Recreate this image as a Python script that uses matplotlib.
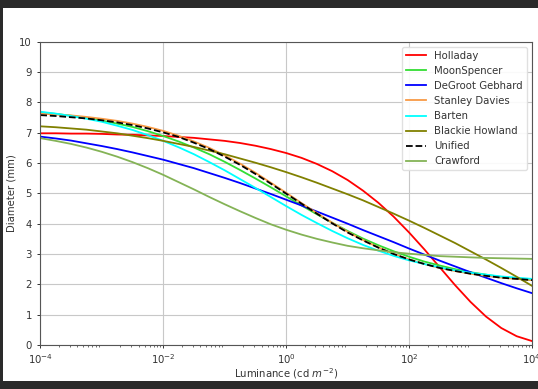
import matplotlib
matplotlib.use("Agg")
import matplotlib.pyplot as plt
from matplotlib.patches import Rectangle

# luminance sample points (log10 cd/m^2), every quarter decade
log_lum = [-4, -3.75, -3.5, -3.25, -3, -2.75, -2.5, -2.25, -2, -1.75, -1.5, -1.25,
           -1, -0.75, -0.5, -0.25, 0, 0.25, 0.5, 0.75, 1, 1.25, 1.5, 1.75,
           2, 2.25, 2.5, 2.75, 3, 3.25, 3.5, 3.75, 4]
luminance = [10.0 ** v for v in log_lum]

# pupil diameters (mm)
holladay = [6.98, 6.98, 6.97, 6.97, 6.96, 6.94, 6.93, 6.91, 6.89, 6.86, 6.83, 6.78,
            6.73, 6.66, 6.57, 6.46, 6.33, 6.17, 5.97, 5.73, 5.44, 5.09, 4.69, 4.23,
            3.71, 3.15, 2.56, 1.97, 1.42, 0.94, 0.56, 0.29, 0.13]
moon_spencer = [7.67, 7.62, 7.56, 7.49, 7.40, 7.30, 7.19, 7.05, 6.89, 6.71, 6.51, 6.29,
                6.04, 5.77, 5.49, 5.20, 4.90, 4.60, 4.31, 4.03, 3.76, 3.51, 3.29, 3.09,
                2.91, 2.75, 2.62, 2.50, 2.40, 2.32, 2.24, 2.19, 2.14]
degroot = [6.87, 6.81, 6.74, 6.65, 6.56, 6.46, 6.35, 6.23, 6.11, 5.97, 5.83, 5.67,
           5.51, 5.34, 5.16, 4.98, 4.79, 4.60, 4.40, 4.20, 4.00, 3.79, 3.59, 3.39,
           3.18, 2.98, 2.78, 2.59, 2.40, 2.22, 2.04, 1.87, 1.71]
stanley_davies = [7.63, 7.60, 7.57, 7.52, 7.46, 7.39, 7.30, 7.19, 7.06, 6.90, 6.71, 6.50,
                  6.25, 5.98, 5.68, 5.35, 5.02, 4.68, 4.35, 4.03, 3.73, 3.46, 3.22, 3.00,
                  2.82, 2.67, 2.54, 2.44, 2.35, 2.28, 2.22, 2.18, 2.14]
barten = [7.69, 7.63, 7.55, 7.46, 7.36, 7.23, 7.09, 6.92, 6.73, 6.52, 6.29, 6.03,
          5.76, 5.47, 5.18, 4.88, 4.58, 4.29, 4.02, 3.76, 3.52, 3.30, 3.11, 2.94,
          2.79, 2.67, 2.56, 2.46, 2.38, 2.32, 2.26, 2.22, 2.18]
blackie_howland = [7.21, 7.18, 7.14, 7.10, 7.04, 6.98, 6.90, 6.82, 6.73, 6.63, 6.53, 6.41,
                   6.29, 6.15, 6.01, 5.86, 5.70, 5.53, 5.35, 5.16, 4.97, 4.77, 4.55, 4.33,
                   4.10, 3.86, 3.61, 3.36, 3.09, 2.82, 2.54, 2.25, 1.95]
unified = [7.58, 7.55, 7.51, 7.47, 7.41, 7.34, 7.25, 7.14, 7.01, 6.86, 6.67, 6.46,
           6.21, 5.94, 5.64, 5.32, 4.99, 4.66, 4.33, 4.01, 3.71, 3.45, 3.21, 3.00,
           2.82, 2.67, 2.54, 2.44, 2.35, 2.28, 2.22, 2.18, 2.14]
crawford = [6.82, 6.73, 6.63, 6.51, 6.37, 6.21, 6.03, 5.83, 5.61, 5.37, 5.13, 4.88,
            4.64, 4.41, 4.19, 3.98, 3.80, 3.64, 3.50, 3.38, 3.27, 3.19, 3.12, 3.06,
            3.01, 2.97, 2.93, 2.91, 2.89, 2.87, 2.86, 2.85, 2.84]

plt.rcParams["font.size"] = 7.3
plt.rcParams["text.color"] = "#333333"
plt.rcParams["axes.labelcolor"] = "#333333"
plt.rcParams["xtick.color"] = "#333333"
plt.rcParams["ytick.color"] = "#333333"

fig = plt.figure(figsize=(5.38, 3.89), dpi=100, facecolor="#2a2a2a")
# white canvas inside the dark screenshot border
fig.add_artist(Rectangle((3 / 538, 8 / 389), 535 / 538, 373 / 389,
                         transform=fig.transFigure, facecolor="white",
                         edgecolor="none", zorder=0))

ax = fig.add_axes([40.3 / 538, 44 / 389, (532 - 40.3) / 538, (345 - 41.7) / 389])

lw = 1.3
ax.plot(luminance, holladay, color="red", lw=lw, label="Holladay")
ax.plot(luminance, moon_spencer, color="#33dd33", lw=lw, label="MoonSpencer")
ax.plot(luminance, degroot, color="blue", lw=lw, label="DeGroot Gebhard")
ax.plot(luminance, stanley_davies, color="#f89a45", lw=lw, label="Stanley Davies")
ax.plot(luminance, barten, color="cyan", lw=lw, label="Barten")
ax.plot(luminance, blackie_howland, color="#808000", lw=lw, label="Blackie Howland")
ax.plot(luminance, unified, color="black", lw=lw, ls="--", label="Unified")
ax.plot(luminance, crawford, color="#84b356", lw=lw, label="Crawford")

ax.set_xscale("log")
ax.set_xlim(1e-4, 1e4)
ax.set_ylim(0, 10)
ax.set_xticks([1e-4, 1e-2, 1e0, 1e2, 1e4])
ax.set_yticks(range(0, 11))
ax.grid(True, which="major", color="#c8c8c8", lw=0.8)
ax.tick_params(length=2.5, width=0.7)
ax.tick_params(axis="x", pad=2.5)
ax.tick_params(which="minor", length=1.5, width=0.5)
for s in ax.spines.values():
    s.set_color("#555555")
    s.set_linewidth(0.8)

ax.set_xlabel("Luminance (cd $m^{-2}$)", labelpad=0.5)
ax.set_ylabel("Diameter (mm)", labelpad=2)
ax.legend(loc="upper right", fontsize=7.3, framealpha=0.9, edgecolor="#dddddd")

fig.savefig("out.png", dpi=100, facecolor=fig.get_facecolor())
